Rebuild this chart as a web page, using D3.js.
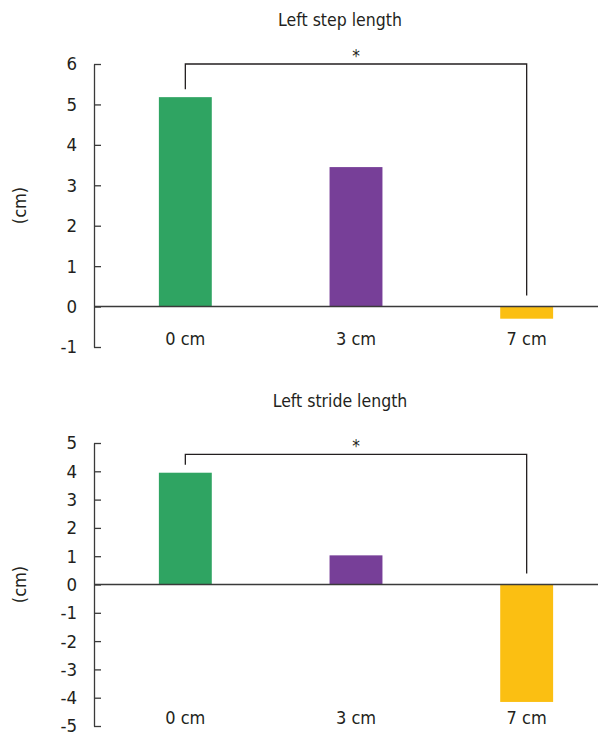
<!DOCTYPE html>
<html>
<head>
<meta charset="utf-8">
<script src="https://cdn.jsdelivr.net/npm/d3@7"></script>
<style>
  body { margin: 0; background: #fff; }
  svg text { font-family: "Liberation Sans Narrow", "DejaVu Sans Condensed", Roboto, sans-serif; fill: #231f20; }
</style>
</head>
<body>
<svg id="chart" width="598" height="733"></svg>
<script>
// data
const categories = ["0 cm", "3 cm", "7 cm"];
const colors = ["#2fa462", "#773f98", "#fbbf12"];

const titles = ["Left step length", "Left stride length"];
const stepValues = [5.18, 3.45, -0.3];
const strideValues = [3.95, 1.03, -4.15];
const yDomains = [[-1, 6], [-5, 5]];
const yTicks = [[-1, 0, 1, 2, 3, 4, 5, 6], [-5, -4, -3, -2, -1, 0, 1, 2, 3, 4, 5]];
const sigLevels = [6, 4.6];     // bracket height for 0 cm vs 7 cm
const sigLabel = "*";

const svg = d3.select("#chart");

// layout of each panel (pixel range of the y axis)
const panels = [
  {values: stepValues, yRange: [347, 64], titleY: 26},
  {values: strideValues, yRange: [726, 443], titleY: 407}
];

const axisX = 94;

const x = d3.scaleBand()
  .domain(categories)
  .range([100, 612])
  .paddingInner(0.69)
  .paddingOuter(0.345);

panels.forEach((p, k) => {
  let y = d3.scaleLinear().domain(yDomains[k]).range(p.yRange);
  let g = svg.append("g");

  // title
  g.append("text")
    .attr("x", 340)
    .attr("y", p.titleY)
    .attr("text-anchor", "middle")
    .attr("font-size", "17.5px")
    .text(titles[k]);

  // bars
  g.selectAll("rect.bar")
    .data(p.values)
    .enter().append("rect")
    .attr("class", "bar")
    .attr("fill", (d, i) => colors[i])
    .attr("x", (d, i) => x(categories[i]))
    .attr("width", x.bandwidth())
    .attr("y", d => y(Math.max(d, 0)))
    .attr("height", d => Math.abs(y(d) - y(0)));

  // zero line
  g.append("line")
    .attr("x1", axisX).attr("x2", 598)
    .attr("y1", y(0)).attr("y2", y(0))
    .attr("stroke", "#3a3a3a")
    .attr("stroke-width", 1.5);

  // y axis
  let axis = g.append("g")
    .attr("transform", `translate(${axisX},0)`)
    .call(d3.axisLeft(y)
      .tickValues(yTicks[k])
      .tickFormat(d => String(d))
      .tickSizeInner(-7).tickSizeOuter(0).tickPadding(17));
  axis.select(".domain").attr("stroke", "#3a3a3a").attr("stroke-width", 1.3);
  axis.selectAll(".tick line").attr("stroke", "#3a3a3a").attr("stroke-width", 1.3);
  axis.selectAll(".tick text")
    .attr("font-size", "18.5px")
    .attr("font-family", null)
    .attr("fill", null);

  // y label
  let midY = (p.yRange[0] + p.yRange[1]) / 2;
  g.append("text")
    .attr("transform", `translate(26,${midY}) rotate(-90)`)
    .attr("text-anchor", "middle")
    .attr("font-size", "18px")
    .text("(cm)");

  // category labels
  g.selectAll("text.cat")
    .data(categories)
    .enter().append("text")
    .attr("class", "cat")
    .attr("x", d => x(d) + x.bandwidth() / 2)
    .attr("y", p.yRange[0] - 2)
    .attr("text-anchor", "middle")
    .attr("font-size", "18px")
    .text(d => d);

  // significance bracket between 0 cm and 7 cm
  let xa = x(categories[0]) + x.bandwidth() / 2;
  let xb = x(categories[2]) + x.bandwidth() / 2;
  let yTop = y(sigLevels[k]);
  let yA = y(Math.max(p.values[0], 0)) - 8;
  let yB = y(Math.max(p.values[2], 0)) - 11;
  g.append("path")
    .attr("d", `M${xa},${yA}V${yTop}H${xb}V${yB}`)
    .attr("fill", "none")
    .attr("stroke", "#231f20")
    .attr("stroke-width", 1.3);
  g.append("text")
    .attr("x", (xa + xb) / 2)
    .attr("y", yTop - 2)
    .attr("text-anchor", "middle")
    .attr("font-size", "17px")
    .text(sigLabel);
});
</script>
</body>
</html>
